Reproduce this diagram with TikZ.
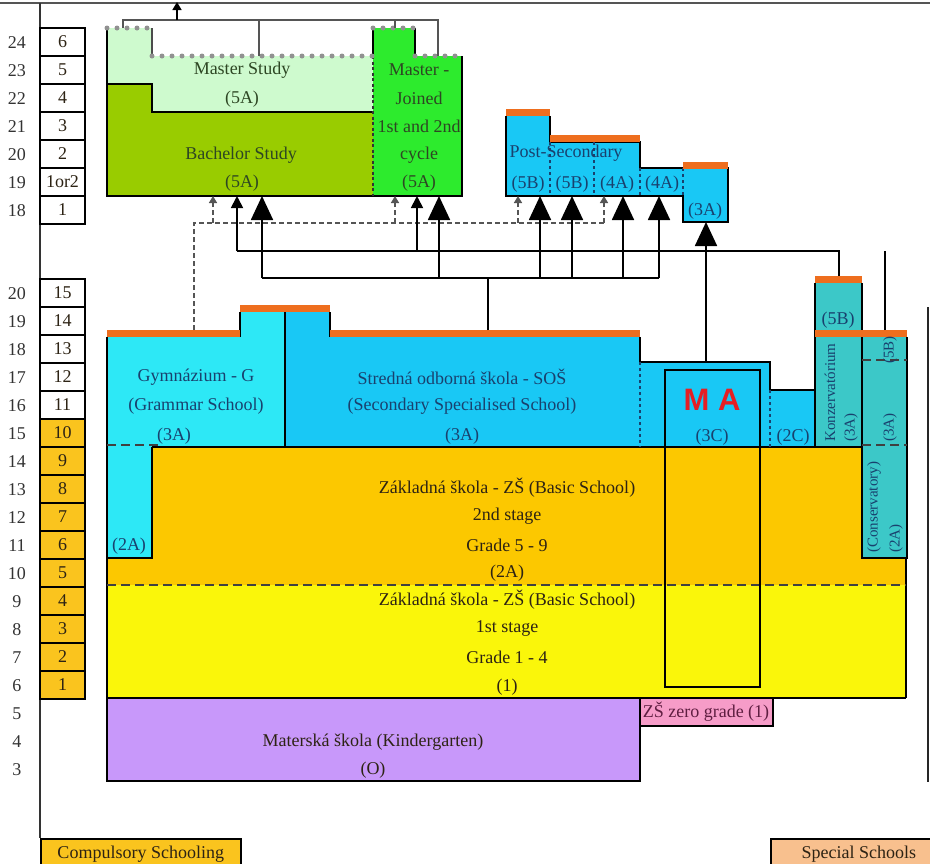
\documentclass[tikz,border=0pt]{standalone}
\usepackage{fontspec}
\setmainfont{Liberation Serif}
\newfontfamily\masans{Liberation Sans}
\usetikzlibrary{arrows.meta}
\definecolor{gymc}{RGB}{45,232,246}
\definecolor{sosc}{RGB}{25,200,245}
\definecolor{konc}{RGB}{60,200,200}
\definecolor{bachc}{RGB}{153,204,0}
\definecolor{mastc}{RGB}{206,250,206}
\definecolor{joinc}{RGB}{45,235,45}
\definecolor{orgc}{RGB}{252,200,0}
\definecolor{yelc}{RGB}{250,246,10}
\definecolor{purc}{RGB}{200,152,250}
\definecolor{pinkc}{RGB}{246,156,200}
\definecolor{barc}{RGB}{238,110,30}
\definecolor{gradec}{RGB}{250,196,30}
\definecolor{peachc}{RGB}{248,192,142}
\definecolor{dotc}{RGB}{145,145,145}
\definecolor{linec}{RGB}{85,85,85}
\definecolor{bluet}{RGB}{25,65,110}
\definecolor{greent}{RGB}{45,70,35}
\definecolor{brownt}{RGB}{45,35,20}
\definecolor{mared}{RGB}{230,30,35}
\definecolor{pinkt}{RGB}{95,30,65}
\begin{document}
\begin{tikzpicture}[x=1pt,y=-1pt,
  every node/.style={inner sep=0pt},
  txt/.style={font=\fontsize{18}{20}\selectfont},
  rtxt/.style={font=\fontsize{15}{17}\selectfont, rotate=90, anchor=west, text=bluet},
  gradebox/.style={draw=black, line width=1.6pt, minimum width=45pt, minimum height=28pt, txt, text=brownt},
  agelbl/.style={txt, text=black!80},
  blk/.style={draw=black, line width=1.8pt},
  thinblk/.style={draw=black, line width=1.1pt},
  dotgray/.style={draw=dotc, line width=5pt, line cap=round, dash pattern=on 0pt off 10pt},
  bar/.style={fill=barc},
  sepdash/.style={draw=black!75, line width=1.4pt, dash pattern=on 9pt off 5pt},
  bluedot/.style={draw=bluet, line width=1.2pt, dash pattern=on 3pt off 3pt},
  conn/.style={draw=black, line width=1.8pt},
  gconn/.style={draw=linec, line width=1.5pt},
  dconn/.style={draw=linec, line width=1.5pt, dash pattern=on 5pt off 3pt},
  bigtip/.style={-{Triangle[width=22pt,length=24pt]}},
  medtip/.style={-{Triangle[width=12pt,length=12pt]}},
  smalltip/.style={-{Triangle[width=8pt,length=7pt]}},
]
\fill[white] (0,0) rectangle (930,863);
\useasboundingbox (0,0) rectangle (930,863);

% frame lines
\draw[linec, line width=1.5pt] (0,3) -- (930,3);
\draw[black!80, line width=1.8pt] (40,3) -- (40,838);
\draw[black!85, line width=2pt] (928,307) -- (928,782);

% legends
\node[draw=black, line width=1.5pt, fill=gradec, minimum width=200pt, minimum height=30pt, txt, text=brownt, anchor=north west] (comp) at (40,838) {Compulsory Schooling};
\node[draw=black, line width=1.5pt, fill=peachc, minimum width=176pt, minimum height=30pt, txt, text=brownt, anchor=north west] (spec) at (770,838) {Special Schools};

% grade columns
\foreach \a/\g [count=\i from 0] in {24/6,23/5,22/4,21/3,20/2,19/1or2,18/1} {
  \node[gradebox] (tg\i) at (62.5,42+28*\i) {\g};
  \node[agelbl] (ta\i) at (17,43+28*\i) {\a};
}
\foreach \a/\g [count=\i from 0] in {20/15,19/14,18/13,17/12,16/11} {
  \node[gradebox] (lg\i) at (62.5,293+28*\i) {\g};
  \node[agelbl] (la\i) at (17,294+28*\i) {\a};
}
\foreach \a/\g [count=\i from 5] in {15/10,14/9,13/8,12/7,11/6,10/5,9/4,8/3,7/2,6/1} {
  \node[gradebox, fill=gradec] (lg\i) at (62.5,293+28*\i) {\g};
  \node[agelbl] (la\i) at (17,294+28*\i) {\a};
}
\node[agelbl] (a5) at (17,714) {5};
\node[agelbl] (a4) at (17,742) {4};
\node[agelbl] (a3) at (17,770) {3};

% ===== university =====
\fill[mastc] (107,28) -- (152,28) -- (152,56) -- (373,56) -- (373,112) -- (152,112) -- (152,84) -- (107,84) -- cycle;
\fill[bachc] (107,84) -- (152,84) -- (152,112) -- (373,112) -- (373,196) -- (107,196) -- cycle;
\fill[joinc] (373,28) -- (415,28) -- (415,56) -- (462,56) -- (462,196) -- (373,196) -- cycle;
\draw[blk] (107,28) -- (107,196) -- (462,196) -- (462,56);
\draw[blk] (107,84) -- (152,84) -- (152,112) -- (373,112);
\draw[blk] (415,56) -- (415,28);
\draw[draw=black!70, line width=1.8pt] (152,28) -- (152,56);
\draw[blk] (373,28) -- (373,56);
\draw[draw=black!80, line width=1.3pt, dash pattern=on 3pt off 2.5pt] (373,56) -- (373,196);
\draw[dotgray] (107,28) -- (152,28);
\draw[dotgray] (152,56) -- (373,56);
\draw[dotgray] (373,28) -- (415,28);
\draw[dotgray] (415,56) -- (462,56);

\node[txt, text=greent] (ms1) at (242,70) {Master Study};
\node[txt, text=greent] (ms2) at (242,99) {(5A)};
\node[txt, text=greent] (bs1) at (241,155) {Bachelor Study};
\node[txt, text=greent] (bs2) at (242,183) {(5A)};
\node[txt, text=greent] (mj1) at (419,70) {Master -};
\node[txt, text=greent] (mj2) at (419,98) {Joined};
\node[txt, text=greent] (mj3) at (419,126) {1st and 2nd};
\node[txt, text=greent] (mj4) at (419,155) {cycle};
\node[txt, text=greent] (mj5) at (419,183) {(5A)};

% top connectors
\coordinate (mtl) at (123,28);
\coordinate (mtm) at (259,56);
\coordinate (jtl) at (395,28);
\coordinate (jtr) at (438,56);
\coordinate (upend) at (177,2);
\draw[gconn] (mtl) -- (123,20) -- (438,20) -- (jtr);
\draw[gconn] (mtm) -- (259,20);
\draw[gconn] (jtl) -- (395,20);
\draw[gconn, -{Triangle[width=9pt,length=8pt]}, black] (177,20) -- (upend);

% ===== post-secondary =====
\fill[sosc] (506,116) -- (550,116) -- (550,142) -- (640,142) -- (640,168) -- (728,168) -- (728,222) -- (683,222) -- (683,196) -- (506,196) -- cycle;
\draw[blk] (506,116) -- (506,196) -- (683,196) -- (683,222) -- (728,222) -- (728,168) -- (640,168) -- (640,142) -- (550,142) -- (550,116);
\draw[bluedot] (550,142) -- (550,196);
\draw[bluedot] (594,142) -- (594,196);
\draw[bluedot] (640,168) -- (640,196);
\draw[bluedot] (683,168) -- (683,196);
\fill[bar] (506,109) rectangle (550,116);
\fill[bar] (550,135) rectangle (640,142);
\fill[bar] (683,162) rectangle (728,169);
\node[txt, text=bluet] (ps) at (566,153) {Post-Secondary};
\node[txt, text=bluet] (ps1) at (528,184) {(5B)};
\node[txt, text=bluet] (ps2) at (572,184) {(5B)};
\node[txt, text=bluet] (ps3) at (617,184) {(4A)};
\node[txt, text=bluet] (ps4) at (662,184) {(4A)};
\node[txt, text=bluet] (ps5) at (705,211) {(3A)};

% ===== secondary =====
\fill[gymc] (107,337) -- (240,337) -- (240,312) -- (285,312) -- (285,447) -- (152,447) -- (152,558) -- (107,558) -- cycle;
\fill[sosc] (285,312) -- (330,312) -- (330,337) -- (640,337) -- (640,362) -- (770,362) -- (770,390) -- (815,390) -- (815,447) -- (285,447) -- cycle;
\fill[konc] (815,283) rectangle (862,447);
\fill[konc] (862,337) rectangle (907,558);
% basic + kindergarten
\fill[orgc] (152,447) -- (862,447) -- (862,558) -- (906,558) -- (906,585) -- (107,585) -- (107,558) -- (152,558) -- cycle;
\fill[yelc] (107,585) rectangle (906,698);
\fill[purc] (107,698) rectangle (640,781);
\fill[pinkc] (640,698) rectangle (773,726);

% outlines
\draw[blk] (107,337) -- (107,781) -- (640,781) -- (640,698);
\draw[blk] (240,337) -- (240,312);
\draw[blk] (330,312) -- (330,337);
\draw[thinblk] (285,312) -- (285,447);
\draw[blk] (640,337) -- (640,362) -- (770,362) -- (770,390) -- (815,390);
\draw[blk] (815,283) -- (815,447);
\draw[blk] (862,283) -- (862,558) -- (907,558) -- (907,337);
\draw[blk] (152,447) -- (862,447);
\draw[blk] (152,447) -- (152,558) -- (107,558);
\draw[blk] (906,558) -- (906,698);
\draw[blk] (107,698) -- (906,698);
\draw[blk] (640,726) -- (773,726) -- (773,698);
\draw[sepdash] (107,585) -- (906,585);
\draw[sepdash] (107,445) -- (162,445);
\draw[sepdash] (862,360) -- (907,360);
\draw[sepdash] (862,445) -- (907,445);
\draw[bluedot] (640,362) -- (640,447);
\draw[bluedot] (770,390) -- (770,447);
\draw[thinblk] (665,370) rectangle (760,687);

% orange bars
\fill[bar] (107,330) rectangle (240,337);
\fill[bar] (240,305) rectangle (330,312);
\fill[bar] (330,330) rectangle (640,337);
\fill[bar] (815,276) rectangle (862,283);
\fill[bar] (815,330) rectangle (907,337);

% texts secondary
\node[txt, text=bluet] (g1) at (196,377) {Gymnázium - G};
\node[txt, text=bluet] (g2) at (196,406) {(Grammar School)};
\node[txt, text=bluet] (g3) at (174,436) {(3A)};
\node[txt, text=bluet] (g4) at (129,546) {(2A)};
\node[txt, text=bluet] (s1) at (462,377) {Stredná odborná škola - SOŠ};
\node[txt, text=bluet] (s2) at (462,406) {(Secondary Specialised School)};
\node[txt, text=bluet] (s3) at (462,436) {(3A)};
\node[font=\masans\bfseries\fontsize{31}{31}\selectfont, text=mared] (ma) at (712,400) {M A};
\node[txt, text=bluet] (c3) at (712,437) {(3C)};
\node[txt, text=bluet] (c2) at (793,437) {(2C)};
\node[txt, text=bluet] (k5b) at (838,320) {(5B)};
\node[rtxt] (kz1) at (830,442) {Konzervatórium};
\node[rtxt] (kz2) at (851,442) {(3A)};
\node[rtxt, anchor=center] (kz3) at (890,350) {(5B)};
\node[rtxt] (kz4) at (890,442) {(3A)};
\node[rtxt] (kz5) at (874,553) {(Conservatory)};
\node[rtxt] (kz6) at (896,553) {(2A)};

% basic school texts
\node[txt, text=brownt] (z1) at (507,488) {Základná škola - ZŠ (Basic School)};
\node[txt, text=brownt] (z2) at (507,516) {2nd stage};
\node[txt, text=brownt] (z3) at (507,545) {Grade 5 - 9};
\node[txt, text=brownt] (z4) at (507,573) {(2A)};
\node[txt, text=brownt] (y1) at (507,600) {Základná škola - ZŠ (Basic School)};
\node[txt, text=brownt] (y2) at (507,628) {1st stage};
\node[txt, text=brownt] (y3) at (507,657) {Grade 1 - 4};
\node[txt, text=brownt] (y4) at (507,687) {(1)};
\node[txt, text=brownt] (k1) at (373,742) {Materská škola (Kindergarten)};
\node[txt, text=brownt] (k2) at (373,770) {(O)};
\node[txt, text=pinkt] (zz) at (706,712) {ZŠ zero grade (1)};

% ===== connectors =====
\coordinate (gymtop) at (194,330);
\coordinate (sostop) at (488,330);
\coordinate (kontop) at (839,276);
\coordinate (kon2top) at (885,330);
\coordinate (mtop) at (706,362);
% dashed from gymnazium
\draw[dconn] (gymtop) -- (194,223) -- (604,223);
\draw[dconn, smalltip] (604,223) -- (604,196);
\draw[dconn, smalltip] (213,223) -- (213,196);
\draw[dconn, smalltip] (395,223) -- (395,196);
\draw[dconn, smalltip] (518,223) -- (518,196);
% conservatory line
\draw[conn] (kontop) -- (839,251) -- (237,251);
\draw[conn] (kon2top) -- (885,251);
\draw[conn, medtip] (237,251) -- (237,196);
\draw[conn, medtip] (417,251) -- (417,196);
% SOS line
\draw[conn] (sostop) -- (488,278);
\draw[conn] (262,278) -- (659,278);
\foreach \xx in {262,439,540,572,623,659} {
  \draw[conn, bigtip] (\xx,278) -- (\xx,196);
}
\draw[conn, bigtip] (mtop) -- (706,222);
\end{tikzpicture}
\end{document}
